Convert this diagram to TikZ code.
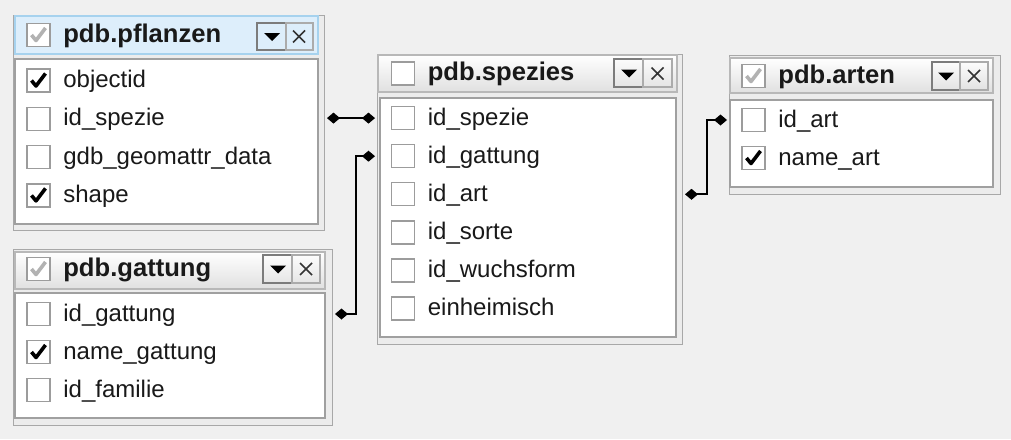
\documentclass[tikz,border=0pt]{standalone}
\usepackage{fontspec}
\setmainfont{Liberation Sans}
\usetikzlibrary{positioning,arrows.meta}
\definecolor{bg}{HTML}{F0F0F0}
\definecolor{panel}{HTML}{ECECEC}
\definecolor{framegray}{HTML}{A8A8A8}
\definecolor{headline}{HTML}{B8B8B8}
\definecolor{headgray}{HTML}{E0E0E0}
\definecolor{selline}{HTML}{A6D2EE}
\definecolor{selfill}{HTML}{DDEEFB}
\definecolor{bodyline}{HTML}{A0A0A0}
\definecolor{boxline}{HTML}{9C9C9C}
\definecolor{dropline}{HTML}{7C7C7C}
\definecolor{shutline}{HTML}{ABABAB}
\begin{document}
\begin{tikzpicture}[x=1pt, y=-1pt]
\tikzset{
  frame/.style={draw=framegray, fill=panel, line width=1.5pt, inner sep=0pt, outer sep=2.5pt, anchor=north west},
  head/.style={draw=headline, line width=1.2pt, top color=white, bottom color=headgray},
  headsel/.style={draw=selline, line width=1.2pt, fill=selfill},
  body/.style={draw=bodyline, line width=1.5pt, fill=white},
  box/.style={draw=boxline, fill=white, line width=1.3pt, minimum size=23pt, inner sep=0pt},
  field/.style={inner sep=0pt, text height=18pt, text depth=4pt, font=\fontsize{24}{28}\selectfont, text=black!90},
  title/.style={field, font=\fontsize{25.6}{28}\selectfont\bfseries},
  tick/.style={line width=3.6pt, line join=round},
  greytick/.style={tick, draw=black!30},
  drop/.style={draw=dropline, line width=1.5pt},
  shut/.style={draw=shutline, line width=1.3pt},
  cross/.style={line width=1.6pt, draw=black!80},
  link/.style={line width=2pt, {Diamond[length=13pt 0 0,width=11pt 0 0]}-{Diamond[length=13pt 0 0,width=11pt 0 0]}}
}
\fill[bg] (0,0) rectangle (1011,439);
\useasboundingbox (0,0) rectangle (1011,439);

\node[frame, minimum width=311pt, minimum height=215pt] (pf) at (11,13) {};
\draw[headsel] (15,16) rectangle (318,54);
\draw[body] (15,59) rectangle (318,224);
\node[box] (pf0) at (38.5,35) {};
\draw[greytick] (pf0) ++(-7,0) -- ++(4.5,5.5) -- ++(9.5,-12.5);
\node[title, right=12.5pt of pf0] (pfn) {pdb.pflanzen};
\draw[drop] (257,23) rectangle ++(29,27);
\fill (264,33) -- ++(16,0) -- ++(-8,8) -- cycle;
\draw[shut] (286,23) rectangle ++(27,27);
\draw[cross] (293,30.5) -- ++(12,12) ++(0,-12) -- ++(-12,12);
\foreach \i/\t/\c in {1/objectid/1, 2/id\_spezie/0, 3/gdb\_geomattr\_data/0, 4/shape/1} {
  \node[box] (pf\i) at (38.5,{42.2+38.3*\i}) {};
  \node[field, right=12.5pt of pf\i] (pft\i) {\t};
  \ifnum\c=1 \draw[tick] (pf\i) ++(-7,0) -- ++(4.5,5.5) -- ++(9.5,-12.5); \fi
}

\node[frame, minimum width=319pt, minimum height=176pt] (ga) at (11,247) {};
\draw[head] (15,252) rectangle (325,289);
\draw[body] (15,293) rectangle (325,418);
\node[box] (ga0) at (38.5,269) {};
\draw[greytick] (ga0) ++(-7,0) -- ++(4.5,5.5) -- ++(9.5,-12.5);
\node[title, right=12.5pt of ga0] (gan) {pdb.gattung};
\draw[drop] (263,255) rectangle ++(29,28);
\fill (270,265.5) -- ++(16,0) -- ++(-8,8) -- cycle;
\draw[shut] (292,255) rectangle ++(28,28);
\draw[cross] (300,263) -- ++(12,12) ++(0,-12) -- ++(-12,12);
\foreach \i/\t/\c in {1/id\_gattung/0, 2/name\_gattung/1, 3/id\_familie/0} {
  \node[box] (ga\i) at (38.5,{276+38*\i}) {};
  \node[field, right=12.5pt of ga\i] (gat\i) {\t};
  \ifnum\c=1 \draw[tick] (ga\i) ++(-7,0) -- ++(4.5,5.5) -- ++(9.5,-12.5); \fi
}

\node[frame, minimum width=305pt, minimum height=290pt] (sp) at (375,52) {};
\draw[head] (378,55) rectangle (677,92);
\draw[body] (380,98) rectangle (676,337);
\node[box] (sp0) at (403,73.5) {};
\node[title, right=12.5pt of sp0] (spn) {pdb.spezies};
\draw[drop] (614,59) rectangle ++(29,28);
\fill (621,69.5) -- ++(16,0) -- ++(-8,8) -- cycle;
\draw[shut] (643,59) rectangle ++(29,28);
\draw[cross] (651.5,67.5) -- ++(12,12) ++(0,-12) -- ++(-12,12);
\foreach \i/\t in {1/id\_spezie, 2/id\_gattung, 3/id\_art, 4/id\_sorte, 5/id\_wuchsform, 6/einheimisch} {
  \node[box] (sp\i) at (403,{80+38.1*\i}) {};
  \node[field, right=12.5pt of sp\i] (spt\i) {\t};
}

\node[frame, minimum width=271pt, minimum height=139pt] (ar) at (727,53) {};
\draw[head] (730,58) rectangle (993,93);
\draw[body] (730,100) rectangle (993,187);
\node[box] (ar0) at (753.5,76) {};
\draw[greytick] (ar0) ++(-7,0) -- ++(4.5,5.5) -- ++(9.5,-12.5);
\node[title, right=12.5pt of ar0] (arn) {pdb.arten};
\draw[drop] (932,62) rectangle ++(28,28);
\fill (938,72.5) -- ++(16,0) -- ++(-8,8) -- cycle;
\draw[shut] (960,62) rectangle ++(28,28);
\draw[cross] (968,70) -- ++(12,12) ++(0,-12) -- ++(-12,12);
\foreach \i/\t/\c in {1/id\_art/0, 2/name\_art/1} {
  \node[box] (ar\i) at (753.5,{82+38*\i}) {};
  \node[field, right=12.5pt of ar\i] (art\i) {\t};
  \ifnum\c=1 \draw[tick] (ar\i) ++(-7,0) -- ++(4.5,5.5) -- ++(9.5,-12.5); \fi
}

\draw[link] (pf.east |- sp1) -- (sp.west |- sp1);
\draw[link] (ga.east |- ga1) -- ++(21,0) |- (sp.west |- sp2);
\draw[link] (sp.east |- sp3) -- ++(22,0) |- (ar.west |- ar1);
\end{tikzpicture}
\end{document}
